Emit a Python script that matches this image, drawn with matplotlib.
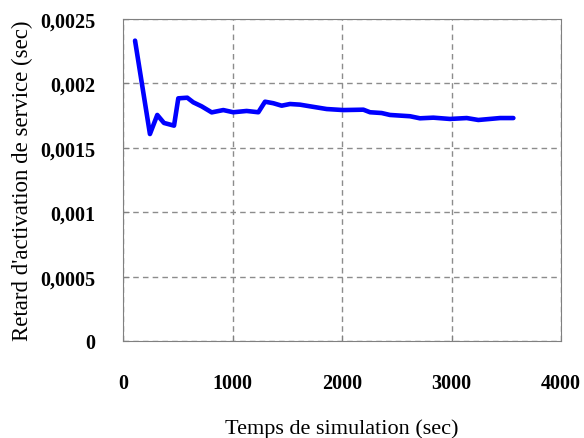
import matplotlib
matplotlib.use("Agg")
import matplotlib.pyplot as plt
from matplotlib.ticker import FuncFormatter

# Données
temps = [110, 246, 313, 374, 466, 505, 587, 642, 718, 810, 916, 1007, 1129,
         1236, 1297, 1373, 1449, 1525, 1616, 1708, 1860, 2012, 2195, 2256,
         2362, 2438, 2621, 2712, 2834, 2986, 3139, 3245, 3443, 3565]
retard = [0.002332, 0.001607, 0.001755, 0.001693, 0.001672, 0.001884,
          0.001889, 0.001853, 0.001822, 0.001775, 0.001793, 0.001776,
          0.001786, 0.001776, 0.001858, 0.001846, 0.001827, 0.001840,
          0.001835, 0.001822, 0.001801, 0.001793, 0.001796, 0.001776,
          0.001770, 0.001755, 0.001745, 0.001729, 0.001734, 0.001724,
          0.001731, 0.001716, 0.001731, 0.001731]

plt.rcParams['font.family'] = ['Liberation Serif', 'DejaVu Serif']

fig = plt.figure(figsize=(5.84, 4.39), dpi=100)
ax = fig.add_axes([123 / 584, 1 - 342 / 439, (561 - 123) / 584, (342 - 20) / 439])

ax.plot(temps, retard, color='#0000ff', linewidth=3.3, solid_joinstyle='round',
        solid_capstyle='round')

ax.set_xlim(0, 4000)
ax.set_ylim(0, 0.0025)
ax.set_xticks([0, 1000, 2000, 3000, 4000])
ax.set_yticks([0, 0.0005, 0.001, 0.0015, 0.002, 0.0025])


def virgule(v, pos):
    if v == 0:
        return '0'
    return ('%g' % v).replace('.', ',')


ax.yaxis.set_major_formatter(FuncFormatter(virgule))
ax.tick_params(axis='both', direction='in', length=4, color='#808080',
               labelsize=14.5)
ax.tick_params(axis='x', pad=23)
ax.tick_params(axis='y', pad=20)
for lab in ax.get_xticklabels() + ax.get_yticklabels():
    lab.set_fontweight('bold')

ax.grid(True, linestyle=(0, (4, 3)), color='#8c8c8c', linewidth=1)
for s in ax.spines.values():
    s.set_color('#808080')

ax.set_xlabel('Temps de simulation (sec)', fontsize=16, labelpad=18)
ax.set_ylabel("Retard d'activation de service (sec)", fontsize=16.5, labelpad=5)

fig.savefig('out.png', dpi=100)
